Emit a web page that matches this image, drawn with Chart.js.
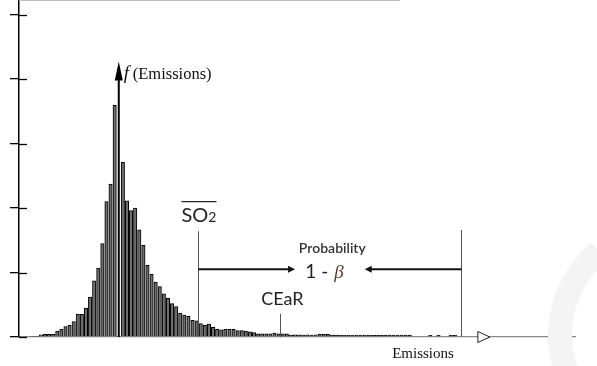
<!DOCTYPE html>
<html>
<head>
<meta charset="utf-8">
<script src="https://cdn.jsdelivr.net/npm/chart.js@4.4.0/dist/chart.umd.min.js"></script>
<style>
  html, body { margin: 0; padding: 0; background: #fff; }
  #wrap { width: 597px; height: 366px; position: relative; }
</style>
</head>
<body>
<div id="wrap"><canvas id="hist"></canvas></div>
<script>
// histogram of emissions, heights (y axis ticks 0..5)
var freq = [
  0.01, 0.01, 0.035, 0.04, 0.04, 0.04, 0.09, 0.12, 0.16, 0.18,
  0.24, 0.35, 0.35, 0.45, 0.62, 0.87, 1.07, 1.45, 2.10, 2.37,
  3.59, null, 2.71, 2.11, 1.96, 2.00, 1.66, 1.42, 1.11, 0.97,
  0.85, 0.78, 0.67, 0.60, 0.52, 0.47, 0.37, 0.34, 0.32, 0.26,
  0.25, 0.21, 0.18, 0.20, 0.15, 0.12, 0.11, 0.12, 0.12, 0.12,
  0.10, 0.10, 0.09, 0.08, 0.07, 0.05, 0.05, 0.05, 0.05, 0.06,
  0.05, 0.05, 0.05, 0.03, 0.035, 0.035, 0.03, 0.035, 0.03, 0.035,
  0.045, 0.045, 0.04, 0.03, 0.03, 0.03, 0.025, 0.03, 0.025, 0.03,
  0.03, 0.03, 0.03, 0.025, 0.025, 0.025, 0.03, 0.03, 0.03, 0.03,
  0.03, 0.03, 0.03, 0, 0, 0, 0, 0.025, 0, 0.025,
  0, 0, 0.025, 0.025, 0
];
var bins = freq.map(function(_, i) { return i; });
var yTicks = [0, 1, 2, 3, 4, 5];

// annotation anchors in data units
var peakBin = 21, peakTop = 4.27;
var so2Bin = 40.4, cearBin = 60.3, upperBin = 104.6;
var rangeY = 1.05;

var marks = {
  id: 'marks',
  afterDatasetsDraw: function(chart) {
    var c = chart.ctx, xs = chart.scales.x, ys = chart.scales.y;
    var X = function(v) { return xs.getPixelForValue(v); };
    var Y = function(v) { return ys.getPixelForValue(v); };
    var base = Y(0);
    c.save();

    // faint watermark
    c.strokeStyle = '#f4f4f4';
    c.lineWidth = 24;
    c.beginPath();
    c.arc(668, 335, 108, Math.PI * 0.72, Math.PI * 1.28);
    c.stroke();

    // frame line at top
    c.strokeStyle = '#bbb';
    c.lineWidth = 1;
    c.beginPath(); c.moveTo(19, 0.5); c.lineTo(400, 0.5); c.stroke();

    // inner half of y ticks
    c.strokeStyle = '#000';
    c.lineWidth = 1.3;
    yTicks.forEach(function(t) {
      var py = Math.round(Y(t)) + 0.5;
      c.beginPath(); c.moveTo(19, py); c.lineTo(27, py); c.stroke();
    });

    // f(Emissions) arrow
    var ax = X(peakBin);
    c.lineWidth = 2;
    c.beginPath(); c.moveTo(ax, base); c.lineTo(ax, Y(peakTop) + 12); c.stroke();
    c.fillStyle = '#000';
    c.beginPath();
    c.moveTo(ax, Y(peakTop));
    c.lineTo(ax - 4, Y(peakTop) + 19);
    c.lineTo(ax + 4, Y(peakTop) + 19);
    c.closePath(); c.fill();

    // vertical markers
    c.strokeStyle = '#555';
    c.lineWidth = 1;
    [[so2Bin, 1.64], [cearBin, 0.36], [upperBin, 1.66]].forEach(function(m) {
      var px = Math.round(X(m[0])) + 0.5;
      c.beginPath(); c.moveTo(px, base); c.lineTo(px, Y(m[1])); c.stroke();
    });

    // range arrows
    var ry = Y(rangeY);
    c.strokeStyle = '#111';
    c.fillStyle = '#111';
    c.lineWidth = 2;
    var lt = X(64.0), rt = X(81.0);
    c.beginPath(); c.moveTo(X(so2Bin), ry); c.lineTo(lt - 5, ry); c.stroke();
    c.beginPath(); c.moveTo(lt, ry); c.lineTo(lt - 7, ry - 3.5); c.lineTo(lt - 7, ry + 3.5); c.closePath(); c.fill();
    c.beginPath(); c.moveTo(X(upperBin), ry); c.lineTo(rt + 5, ry); c.stroke();
    c.beginPath(); c.moveTo(rt, ry); c.lineTo(rt + 7, ry - 3.5); c.lineTo(rt + 7, ry + 3.5); c.closePath(); c.fill();

    // x axis arrow head (hollow)
    c.strokeStyle = '#222';
    c.fillStyle = '#fff';
    c.lineWidth = 1;
    var hx = X(108.6);
    c.beginPath(); c.moveTo(hx, base - 5.5); c.lineTo(hx + 12, base); c.lineTo(hx, base + 5.5); c.closePath();
    c.fill(); c.stroke();

    // texts
    c.fillStyle = '#111';
    c.textBaseline = 'alphabetic';
    c.textAlign = 'left';
    c.font = 'italic 19px "Liberation Serif"';
    c.fillText('f', ax + 5, Y(4.0));
    c.font = '16.5px "Liberation Serif"';
    c.fillText('(Emissions)', ax + 14, Y(4.0));
    c.font = '15px "Liberation Serif"';
    c.fillText('Emissions', X(87.7), Y(-0.33));

    c.font = '20px Lato';
    c.fillStyle = '#222';
    var sx = X(36.3), sy = Y(1.78);
    c.fillText('SO', sx, sy);
    var w = c.measureText('SO').width;
    c.font = '14px Lato';
    c.fillText('2', sx + w, sy);
    var w2 = w + c.measureText('2').width;
    c.lineWidth = 1.2;
    c.strokeStyle = '#222';
    c.beginPath(); c.moveTo(sx, Y(2.10)); c.lineTo(sx + w2, Y(2.10)); c.stroke();

    c.textAlign = 'center';
    c.font = '600 14px Lato';
    c.fillStyle = '#333';
    c.fillText('Probability', X(73.1), Y(1.30));
    c.font = '19px Lato';
    c.fillStyle = '#222';
    c.textAlign = 'right';
    c.fillText('1 - ', X(73.3), Y(0.91));
    c.textAlign = 'left';
    c.font = 'italic 19px "Liberation Serif"';
    c.fillStyle = '#5a3b2a';
    c.fillText('\u03b2', X(73.3) + 1, Y(0.91));
    c.textAlign = 'center';
    c.font = '18px Lato';
    c.fillStyle = '#222';
    c.fillText('CEaR', X(60.9), Y(0.50));
    c.restore();
  }
};

new Chart(document.getElementById('hist'), {
  type: 'bar',
  data: {
    datasets: [{
      label: 'f (Emissions)',
      data: freq.map(function(v, i) { return { x: bins[i], y: v }; }),
      backgroundColor: '#6e6e6e',
      borderColor: '#000',
      borderWidth: 1,
      barThickness: 3.4,
      borderSkipped: 'bottom'
    }]
  },
  options: {
    responsive: true,
    maintainAspectRatio: false,
    animation: false,
    devicePixelRatio: 1,
    layout: { padding: { left: 10, top: 0, right: 22, bottom: 29 } },
    plugins: { legend: { display: false }, tooltip: { enabled: false } },
    scales: {
      x: {
        type: 'linear',
        min: -3.34,
        max: 132.3,
        offset: false,
        grid: { display: false, drawTicks: false },
        ticks: { display: false },
        border: { display: true, color: '#888', width: 1.2 }
      },
      y: {
        min: 0,
        max: 5.225,
        afterBuildTicks: function(s) { s.ticks = yTicks.map(function(v) { return { value: v }; }); },
        ticks: { display: false },
        grid: { drawOnChartArea: false, drawTicks: true, tickLength: 9, color: '#000', lineWidth: 1.3 },
        border: { display: true, color: '#000', width: 1.5 }
      }
    }
  },
  plugins: [marks]
});
</script>
</body>
</html>
